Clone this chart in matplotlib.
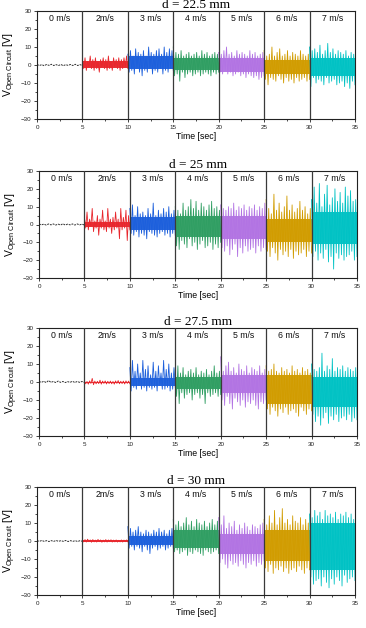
import numpy as np
import matplotlib
matplotlib.use("Agg")
import matplotlib.pyplot as plt
from matplotlib.ticker import MultipleLocator

plt.rcParams['font.family'] = ['Liberation Sans', 'DejaVu Sans']
plt.rcParams['mathtext.fontset'] = 'custom'
plt.rcParams['mathtext.rm'] = 'Liberation Sans'
plt.rcParams['mathtext.it'] = 'Liberation Sans:italic'

titles = ["d = 22.5 mm", "d = 25 mm", "d = 27.5 mm", "d = 30 mm"]
speed_labels = ["0 m/s", "2m/s", "3 m/s", "4 m/s", "5 m/s", "6 m/s", "7 m/s"]
seg_colors = ["#303030", "#e8262c", "#1c5fdc", "#2f9e62", "#b273e3", "#d19c00", "#00c2c4"]
x_ticks = [0, 5, 10, 15, 20, 25, 30, 35]
y_ticks = [-30, -20, -10, 0, 10, 20, 30]

# ---- d = 22.5 mm (peak/trough samples per segment, V) ----
d225_0ms = [0.3, -0.3, 0.2, -0.4, 0.3, -0.2, 0.4, -0.3, 0.2, -0.3, 0.3, -0.4, 0.2, -0.2, 0.3, -0.3, 0.4, -0.3, 0.2, -0.3]
d225_2ms = [3, -2, 4, -3, 2, -1, 5, -2, 3, -3, 4, -2, 2, -4, 3, -1, 4, -2, 3, -3, 5, -2, 2, -3, 4, -1, 3, -2, 4, -3, 3, -2, 4, -1, 5, -2]
d225_3ms = [6, -4, 8, -3, 5, -5, 9, -2, 7, -4, 6, -6, 8, -3, 5, -4, 10, -2, 7, -5, 6, -3, 8, -4, 9, -2, 6, -5, 10, -3, 7, -4, 9, -2, 8, -3]
d225_4ms = [10, -6, 7, -5, 6, -9, 8, -4, 5, -7, 6, -5, 7, -4, 5, -6, 6, -5, 7, -4, 5, -6, 8, -5, 6, -4, 7, -5, 5, -6, 6, -4, 7, -5, 6, -4]
d225_5ms = [7, -4, 6, -5, 8, -3, 10, -5, 6, -4, 7, -6, 5, -5, 8, -4, 6, -6, 7, -5, 6, -7, 5, -5, 8, -6, 6, -7, 7, -6, 5, -8, 6, -7, 7, -6]
d225_6ms = [8, -8, 5, -11, 6, -7, 10, -8, 5, -9, 7, -6, 9, -8, 5, -10, 6, -7, 8, -9, 5, -8, 7, -10, 6, -7, 5, -9, 8, -8, 6, -7, 5, -9, 6, -8]
d225_7ms = [10, -12, 8, -7, 9, -10, 7, -8, 11, -9, 6, -11, 8, -7, 12, -10, 7, -9, 9, -8, 6, -11, 8, -10, 7, -9, 6, -12, 8, -10, 5, -13, 7, -9, 6, -11]
# dense core band of each segment (low, high)
d225_core_lo = [-0.2, -1.5, -2, -3, -4, -5, -6]
d225_core_hi = [0.2, 2.5, 5, 4, 4, 3, 4]

# ---- d = 25 mm ----
d25_0ms = [0.3, -0.2, 0.2, -0.3, 0.3, -0.2, 0.3, -0.3, 0.2, -0.3, 0.4, -0.3, 0.2, -0.2, 0.3, -0.3, 0.3, -0.2, 0.2, -0.3]
d25_2ms = [4, -2, 7, -3, 3, -1, 9, -4, 2, -2, 5, -6, 3, -2, 8, -3, 2, -4, 9, -2, 3, -5, 4, -3, 7, -2, 3, -8, 9, -3, 4, -2, 8, -9, 5, -3]
d25_3ms = [9, -5, 11, -6, 5, -4, 10, -7, 6, -5, 7, -6, 5, -8, 9, -4, 6, -5, 12, -6, 5, -7, 8, -5, 6, -4, 9, -6, 7, -5, 10, -7, 6, -5, 8, -6]
d25_4ms = [10, -12, 8, -14, 6, -9, 12, -11, 8, -13, 10, -8, 14, -12, 9, -10, 13, -14, 8, -11, 12, -9, 10, -13, 8, -12, 11, -10, 13, -14, 9, -11, 10, -13, 8, -10]
d25_5ms = [11, -13, 9, -15, 8, -12, 10, -17, 9, -14, 12, -11, 8, -18, 10, -13, 9, -16, 11, -12, 8, -15, 10, -14, 9, -13, 11, -16, 8, -12, 10, -15, 9, -13, 12, -14]
d25_6ms = [14, -15, 9, -18, 6, -13, 17, -16, 8, -20, 12, -14, 7, -17, 10, -15, 16, -18, 8, -14, 11, -19, 7, -15, 9, -17, 13, -16, 8, -14, 10, -18, 6, -15, 9, -16]
d25_7ms = [14, -18, 21, -15, 12, -20, 23, -16, 10, -19, 17, -14, 22, -21, 11, -18, 15, -25, 20, -16, 13, -19, 18, -17, 12, -20, 21, -18, 16, -17, 19, -15, 13, -20, 14, -18]
d25_core_lo = [-0.2, -1.5, -3, -7, -8, -10, -11]
d25_core_hi = [0.2, 1.5, 4, 5, 5, 3, 7]

# ---- d = 27.5 mm ----
d275_0ms = [0.3, -0.2, 0.4, -0.3, 0.8, -0.2, 0.3, -0.3, 0.5, -0.2, 0.3, -0.3, 0.2, -0.2, 0.4, -0.3, 0.3, -0.2, 0.3, -0.2]
d275_2ms = [0.5, -1, 0.3, -1.2, 0.6, -0.8, 2, -1.5, 0.5, -1, 0.4, -0.9, 1, -1.2, 0.5, -0.8, 0.6, -1.1, 0.4, -0.9, 0.5, -1, 0.3, -1.2, 0.6, -0.8, 0.8, -1, 0.4, -0.9, 0.5, -1.1, 0.6, -0.8, 0.5, -1]
d275_3ms = [8, -5, 12, -3, 6, -4, 10, -2, 5, -4, 12, -3, 7, -5, 9, -3, 4, -4, 11, -3, 6, -5, 9, -2, 5, -4, 12, -4, 7, -3, 10, -5, 5, -4, 8, -3]
d275_4ms = [7, -8, 9, -12, 5, -6, 8, -9, 4, -7, 6, -6, 7, -10, 5, -7, 8, -6, 4, -9, 6, -7, 5, -12, 7, -6, 4, -8, 6, -7, 9, -6, 5, -8, 6, -7]
d275_5ms = [14, -10, 6, -13, 9, -8, 11, -12, 6, -15, 8, -9, 5, -11, 10, -13, 7, -10, 6, -14, 9, -11, 5, -12, 8, -10, 7, -13, 6, -15, 9, -11, 5, -12, 7, -10]
d275_6ms = [9, -15, 6, -18, 7, -14, 10, -16, 6, -19, 5, -15, 8, -17, 6, -14, 7, -18, 5, -16, 9, -15, 6, -17, 7, -19, 5, -14, 8, -16, 6, -18, 7, -15, 5, -16]
d275_7ms = [10, -18, 7, -22, 6, -19, 8, -24, 16, -20, 6, -17, 9, -23, 7, -19, 13, -21, 6, -18, 8, -22, 7, -20, 9, -19, 6, -21, 8, -18, 7, -22, 6, -20, 8, -21]
d275_core_lo = [-0.2, -0.6, -2, -4, -6, -12, -14]
d275_core_hi = [0.2, 0.2, 2, 3, 4, 4, 3]

# ---- d = 30 mm ----
d30_0ms = [0.2, -0.2, 0.3, -0.2, 0.2, -0.3, 0.2, -0.2, 0.3, -0.2, 0.2, -0.2, 0.3, -0.3, 0.2, -0.2, 0.2, -0.3, 0.2, -0.2]
d30_2ms = [0.5, -0.5, 0.8, -0.6, 1, -0.4, 0.6, -0.7, 0.8, -0.5, 0.5, -0.6, 0.9, -0.4, 0.6, -0.7, 0.5, -0.5, 0.8, -0.6, 0.6, -0.4, 0.7, -0.6, 0.5, -0.5, 0.6, -0.6, 0.4, -0.5, 0.6, -0.6, 0.5, -0.4, 0.6, -0.5]
d30_3ms = [8, -4, 7, -3, 5, -5, 6, -3, 8, -4, 5, -6, 4, -3, 6, -5, 5, -7, 4, -4, 6, -3, 5, -5, 7, -4, 5, -3, 6, -5, 4, -4, 6, -3, 7, -4]
d30_4ms = [12, -6, 9, -5, 11, -7, 8, -6, 10, -5, 13, -8, 9, -6, 11, -7, 8, -5, 12, -6, 10, -7, 9, -8, 11, -5, 8, -6, 10, -7, 12, -6, 9, -5, 11, -7]
d30_5ms = [13, -12, 9, -10, 14, -13, 7, -15, 10, -11, 8, -13, 11, -12, 6, -14, 9, -11, 7, -13, 10, -15, 8, -12, 6, -13, 9, -11, 8, -14, 7, -12, 9, -13, 10, -11]
d30_6ms = [12, -15, 9, -17, 14, -13, 10, -18, 17, -15, 9, -16, 13, -14, 18, -17, 10, -15, 12, -18, 9, -16, 14, -15, 11, -17, 10, -14, 13, -16, 9, -18, 12, -15, 10, -16]
d30_7ms = [15, -20, 13, -24, 17, -22, 14, -21, 16, -25, 12, -20, 17, -23, 14, -26, 15, -21, 13, -24, 16, -20, 12, -22, 15, -25, 14, -19, 16, -23, 13, -21, 15, -20, 12, -22]
d30_core_lo = [-0.2, -0.3, -2, -4, -7, -11, -16]
d30_core_hi = [0.2, 0.4, 3, 6, 4, 6, 10]

panels = [
    [d225_0ms, d225_2ms, d225_3ms, d225_4ms, d225_5ms, d225_6ms, d225_7ms],
    [d25_0ms, d25_2ms, d25_3ms, d25_4ms, d25_5ms, d25_6ms, d25_7ms],
    [d275_0ms, d275_2ms, d275_3ms, d275_4ms, d275_5ms, d275_6ms, d275_7ms],
    [d30_0ms, d30_2ms, d30_3ms, d30_4ms, d30_5ms, d30_6ms, d30_7ms],
]
cores = [(d225_core_lo, d225_core_hi), (d25_core_lo, d25_core_hi),
         (d275_core_lo, d275_core_hi), (d30_core_lo, d30_core_hi)]
segment_starts = [0, 5, 10, 15, 20, 25, 30]
segment_len = 5

W, H = 366, 628
fig = plt.figure(figsize=(W / 100, H / 100), dpi=100)
# (left, top, right, bottom) in pixels
boxes = [(37, 11, 355, 119), (39, 171, 357, 278), (39, 328, 357, 436), (37, 487, 355, 595)]

for p, (segs, (clo, chi), title, box) in enumerate(zip(panels, cores, titles, boxes)):
    l, t, r, b = box
    ax = fig.add_axes([l / W, 1 - b / H, (r - l) / W, (b - t) / H])
    for k, (vals, start, col) in enumerate(zip(segs, segment_starts, seg_colors)):
        x = np.linspace(start, start + segment_len, len(vals))
        if k > 0:
            ax.fill_between([start, start + segment_len], clo[k], chi[k], color=col,
                            lw=0, alpha=0.95)
        ax.plot(x, vals, color=col, lw=0.6 if k > 0 else 0.7,
                ls='-' if k > 0 else (0, (2, 1)))
        ax.text(start + segment_len / 2, 26, speed_labels[k], ha='center', va='center',
                fontsize=6.3, color='#111111')
    for xs in segment_starts[1:]:
        ax.axvline(xs, color='#3a3a3a', lw=0.9, zorder=3)
    ax.set_xlim(0, 35)
    ax.set_ylim(-30, 30)
    ax.set_xticks(x_ticks)
    ax.set_yticks(y_ticks)
    ax.xaxis.set_minor_locator(MultipleLocator(2.5))
    ax.yaxis.set_minor_locator(MultipleLocator(5))
    ax.tick_params(which='major', direction='out', length=2.5, width=0.6, labelsize=4.5,
                   colors='#222222', pad=1.5)
    ax.tick_params(which='minor', direction='out', length=1.3, width=0.5)
    for s in ax.spines.values():
        s.set_linewidth(0.8)
        s.set_color('#222222')
    ax.set_title(title, fontsize=9.5, family='Liberation Serif', pad=1.5)
    ax.set_ylabel(r'V$_{\mathrm{Open\ Circuit}}$ [V]', fontsize=7.5, labelpad=2)
    ax.set_xlabel('Time [sec]', fontsize=6.3, labelpad=2)

fig.savefig("out.png", dpi=100)
